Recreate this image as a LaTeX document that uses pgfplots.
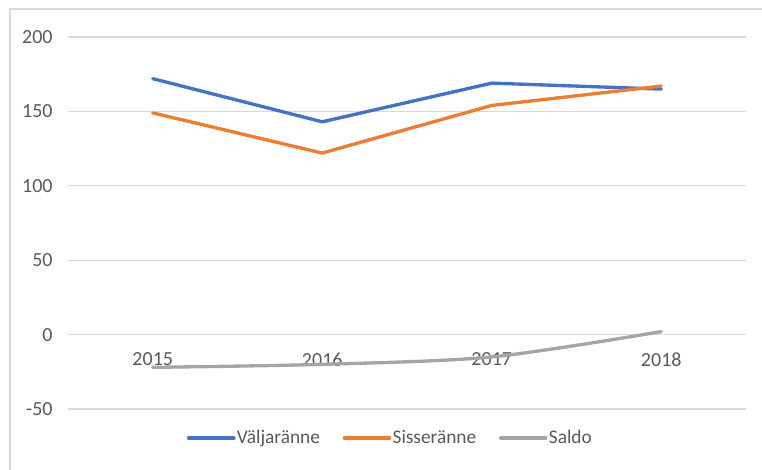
\documentclass[border=0pt]{standalone}
\usepackage{pgfplots}
\pgfplotsset{compat=1.18}
\usepackage{fontspec}
\setmainfont{Carlito}
\definecolor{cblue}{HTML}{4472C4}
\definecolor{corange}{HTML}{ED7D31}
\definecolor{cgray}{HTML}{A5A5A5}
\definecolor{ctext}{HTML}{595959}
\definecolor{cgrid}{HTML}{D9D9D9}
\begin{document}
\begin{tikzpicture}
\useasboundingbox (0,0) rectangle (571.5pt,352.5pt);
\draw[cgrid, line width=1.2pt] (7.5pt,-20pt) rectangle (600pt,345.75pt);
\begin{axis}[
    at={(51pt,45.75pt)}, anchor=south west,
    scale only axis, width=508.5pt, height=279pt,
    xmin=-0.5, xmax=3.5, ymin=-50, ymax=200,
    axis x line=middle, axis y line=left,
    axis line style={draw=none}, separate axis lines,
    xtick={0,1,2,3}, xticklabels={2015,2016,2017,2018},
    ytick={-50,0,50,100,150,200},
    major tick length=0pt,
    ymajorgrids, grid style={cgrid, line width=1pt},
    tick label style={font=\fontsize{15}{18}\selectfont, text=ctext},
    /pgf/number format/assume math mode=true,
    xticklabel style={anchor=north, yshift=-10pt},
    yticklabel style={anchor=east, xshift=-8pt},
    legend columns=3,
    legend style={at={(0.475,-0.078)}, anchor=center, draw=none, fill=none,
        font=\fontsize{14.5}{17}\selectfont, text=ctext,
        /tikz/every even column/.append style={column sep=16pt},
        nodes={inner sep=1pt}},
    legend image code/.code={\draw[#1, line width=2.5pt] (0pt,0pt) -- (34pt,0pt);},
    every axis plot/.append style={line width=2.5pt, line join=round, line cap=round},
]
\addplot[cblue] coordinates {(0,172) (1,143) (2,169) (3,165)};
\addlegendentry{Väljaränne}
\addplot[corange] coordinates {(0,149) (1,122) (2,154) (3,167)};
\addlegendentry{Sisseränne}
\addplot[cgray, smooth] coordinates {(0,-22) (1,-20) (2,-15) (3,2)};
\addlegendentry{Saldo}
\end{axis}
\end{tikzpicture}
\end{document}
